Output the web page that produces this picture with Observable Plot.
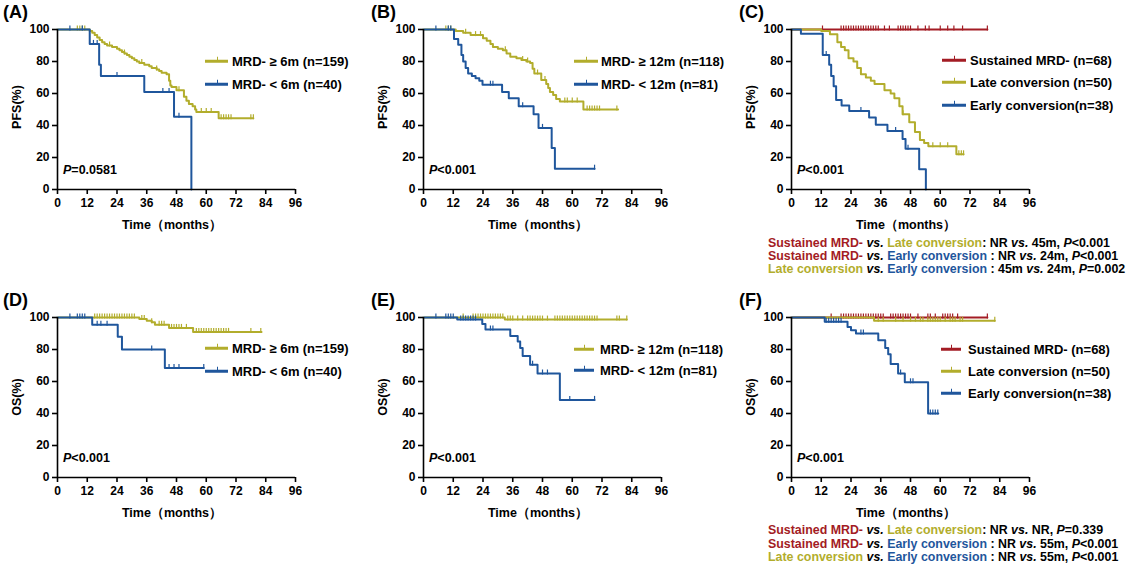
<!DOCTYPE html>
<html><head><meta charset="utf-8">
<script src="https://cdn.jsdelivr.net/npm/d3@7"></script>
<script src="https://cdn.jsdelivr.net/npm/@observablehq/plot@0.6"></script>
<style>
body{margin:0;background:#fff;}
#root{position:relative;width:1131px;height:564px;font-family:"Liberation Sans",Arial,sans-serif;font-weight:bold;color:#000;overflow:hidden;background:#fff}
.abs{position:absolute;white-space:nowrap}
.tag{font-size:18px;transform:translateY(-50%)}
.ylab{font-size:12.5px;transform:translate(-50%,-50%) rotate(-90deg)}
.xlab{font-size:12.5px;transform:translate(-50%,-50%)}
.pv{font-size:12.5px;transform:translateY(-50%)}
.legt{font-size:13px;transform:translateY(-50%)}
.sw{position:absolute;height:2.5px;transform:translateY(-50%)}
.sw i{position:absolute;left:50%;top:-3.5px;width:1.4px;height:4px;background:inherit}
.foot{font-size:12.4px;transform:translateY(-50%)}
i.it{font-style:italic}
</style>
</head><body>
<div id="root"></div>
<script>
// ---------------- data ----------------
const xTicks = [0, 12, 24, 36, 48, 60, 72, 84, 96];
const yTicks = [0, 20, 40, 60, 80, 100];
const colRed = "#a31c24", colOlive = "#b2ad2c", colBlue = "#1f569c";

// (A) PFS, MRD- >= 6m vs < 6m
const aHiT = [13,14,15,16,17,18,19,20,22,24,25,26,27,28,29,30,31,32,33,35,37,38,40,41,42,44,45,45.5,46,48,51,52,53,54.5,55.5,56,65];
const aHiS = [99,98,96.5,95,93.5,92,91,90,89,88,87,86,85,84,83,82,81,80,79,78,77,76,75,74,73,72,68,65,64,62,58,55.5,53.5,52,50,48.5,44.5];
const aHiEnd = 79;
const aHiCens = [8,9,10,11,21,27,34,40,49,58,60,62,66,67,68,69,70,78,79];
const aLoT = [13,16.8,17.5,35,47,54];
const aLoS = [91,78,71,61,45.5,0];
const aLoEnd = 54;
const aLoCens = [5,10,14.5,16,24,42.5,45,49];

// (B) PFS, MRD- >= 12m vs < 12m
const bHiT = [13,16,19,24,25.5,27,28,30,32,33.5,35,37.5,39.5,41.5,43,44,44.7,47.5,49.5,50.3,51,52.3,53.5,55,64.5];
const bHiS = [99,98,96.5,94.5,93,91,89,88,87,85,83,82,81,80,79,75.5,72.5,68.5,66,63.5,61,59,56.5,55,50];
const bHiEnd = 78.5;
const bHiCens = [9,10,11,17,21,23,33,40,42,46,49,57,58,60,62,66,67,68,69,70,71,78];
const bLoT = [12.3,14,15.3,16,17,18,19.5,21,22.5,23.8,31.7,34.4,38.4,44.4,46.4,51.7,53];
const bLoS = [94,90.5,84,80,76,72.5,71,69.5,68,65.5,61,57,52,47,38.5,26,13];
const bLoEnd = 69;
const bLoCens = [5,10,11,27,28,40,48,69];

// (C) PFS, three groups
const cSusT = [];
const cSusS = [];
const cSusEnd = 79;
const cSusCens = [12.5,20,21,22,23,24,25,26,27,28,29,30,31,32,33,34,35,37.5,39.5,43,44,45,46,47,48,51,54,55.5,60,63,65.5,69,79];
const cLateT = [12,15.5,18.5,20,21.5,23,25,26.5,28,30,32,33.5,37.5,40,41.5,43.5,44.8,47.5,49.8,51.8,53.5,55.2,66.5];
const cLateS = [99,97,92,89,87,82,80,76,72,70,68,66,62,60,57,52,47,42,36,31,29,27,22];
const cLateEnd = 69.4;
const cLateCens = [45,57,60,63,67.5,68.5,69.4];
const cEarlyT = [3.8,12.6,15.2,16,17,18,20.2,23.3,31.3,34,38.7,44.8,46,51.5,54.2];
const cEarlyS = [97.4,84,78,71,64.5,56,52.5,49,45,40.5,36.5,31.5,25.5,12.7,0];
const cEarlyEnd = 54.2;
const cEarlyCens = [14,28,42,47];

// (D) OS, MRD- >= 6m vs < 6m
const dHiT = [33,36,38,39.3,45,54.7];
const dHiS = [99,98,97,95.5,93.5,91];
const dHiEnd = 82.3;
const dHiCens = [15,16,17,18,19,20,21,22,23,24,25,26,27,28,29,30,31,34,35,38,41,42,43,46,47,48,49,50,52,56,57,58,59,60,61,62,63,64,65,66,67,68,69,78,82];
const dLoT = [14,24.3,26,43.3];
const dLoS = [95.5,88,80,68.5];
const dLoEnd = 59;
const dLoCens = [5,8,9,10,11,16,17.5,20,38,45,47,49,59];

// (E) OS, MRD- >= 12m vs < 12m
const eHiT = [32.8];
const eHiS = [98.7];
const eHiEnd = 82;
const eHiCens = [16,20,21,22,23,24,25,26,27,28,29,30,31,32,34,35,36,38,40,42,43,44,45,46,47,48,50,53,54,55,56,57,58,59,60,61,62,63,64,65,66,67,68,69,70,78,79,82];
const eLoT = [13.6,23.7,25,35,38,39,40,43,46,55];
const eLoS = [98.7,96,92.5,88.5,85,81,76,70.5,65,48.5];
const eLoEnd = 69;
const eLoCens = [5,9,10,11,12,15,16,17,18,19,20,21,27,28,44,48,50,59,69];

// (F) OS, three groups
const fSusT = [];
const fSusS = [];
const fSusEnd = 79;
const fSusCens = [16,20,21,22,23,24,25,26,27,28,29,30,31,32,33,34,35,36,37,40,41,42,43,44,45,46,47,48,51,55,56,58,61,62,63,64,65,67,79];
const fLateT = [33.3];
const fLateS = [98];
const fLateEnd = 82;
const fLateCens = [35,37,42,45,48,50,52,53,55,56,57,58,59,60,62,64,65,66,68,69,82];
const fEarlyT = [13.4,22.6,24,26,35,37.8,39,40,43,45.7,55.1];
const fEarlyS = [97.4,94,92,90,85.8,81,77,71,65,59.5,40];
const fEarlyEnd = 59.2;
const fEarlyCens = [14,15,16,17,18,19,20,28,29,44,48,49,56,57,58,59];

// text
const legA = ["MRD- ≥ 6m (n=159)", "MRD- < 6m (n=40)"];
const legB = ["MRD- ≥ 12m (n=118)", "MRD- < 12m (n=81)"];
const legC = ["Sustained MRD- (n=68)", "Late conversion (n=50)", "Early conversion(n=38)"];
const pVals = ["=0.0581", "<0.001", "<0.001", "<0.001", "<0.001", "<0.001"];

// ---------------- helpers ----------------
function path(ts, ss, end) {
  const pts = [{t: 0, s: 100}];
  ts.forEach((t, i) => pts.push({t, s: ss[i]}));
  const last = pts[pts.length - 1];
  if (end > last.t) pts.push({t: end, s: last.s});
  return pts;
}
function survAt(ts, ss, t) {
  let s = 100;
  for (let i = 0; i < ts.length; i++) if (ts[i] <= t) s = ss[i];
  return s;
}
function cens(ts, ss, cs) { return cs.map(t => ({t, s: survAt(ts, ss, t)})); }

const censorSym = {
  draw(ctx, size) {
    const h = Math.sqrt(size / Math.PI);
    ctx.moveTo(0, -h);
    ctx.lineTo(0, h * 0.25);
  }
};

const root = document.getElementById("root");
function addDiv(cls, x, y, html, extra) {
  const d = document.createElement("div");
  d.className = "abs " + cls;
  d.style.left = x + "px";
  d.style.top = y + "px";
  d.innerHTML = html;
  if (extra) Object.assign(d.style, extra);
  root.appendChild(d);
  return d;
}

function panel(left, top, series) {
  const marks = [];
  for (const sr of series) {
    marks.push(Plot.line(path(sr.t, sr.s, sr.end), {x: "t", y: "s", stroke: sr.color, strokeWidth: 2, curve: "step-after"}));
    marks.push(Plot.dot(cens(sr.t, sr.s, sr.c), {x: "t", y: "s", stroke: sr.color, fill: "none", r: 4, symbol: censorSym, strokeWidth: 1.2}));
  }
  marks.push(Plot.ruleX([0], {strokeWidth: 1.6}));
  marks.push(Plot.ruleY([0], {strokeWidth: 1.6}));
  marks.push(Plot.axisX({ticks: xTicks, tickSize: 5, tickPadding: 4, strokeWidth: 1.6, label: null}));
  marks.push(Plot.axisY({ticks: yTicks, tickSize: 5, tickPadding: 3, strokeWidth: 1.6, label: null}));
  const svg = Plot.plot({
    width: 370, height: 231,
    marginLeft: 57, marginRight: 75, marginTop: 29, marginBottom: 42,
    x: {domain: [0, 96]},
    y: {domain: [0, 100]},
    style: {fontFamily: "'Liberation Sans', Arial, sans-serif", fontSize: "12px", fontWeight: "bold", color: "#000", background: "transparent", overflow: "visible"},
    marks
  });
  svg.style.position = "absolute";
  svg.style.left = left + "px";
  svg.style.top = top + "px";
  root.appendChild(svg);
}

// ---------------- panels ----------------
panel(0, 0, [
  {t: aHiT, s: aHiS, end: aHiEnd, c: aHiCens, color: colOlive},
  {t: aLoT, s: aLoS, end: aLoEnd, c: aLoCens, color: colBlue}
]);
panel(366, 0, [
  {t: bHiT, s: bHiS, end: bHiEnd, c: bHiCens, color: colOlive},
  {t: bLoT, s: bLoS, end: bLoEnd, c: bLoCens, color: colBlue}
]);
panel(734, 0, [
  {t: cSusT, s: cSusS, end: cSusEnd, c: cSusCens, color: colRed},
  {t: cLateT, s: cLateS, end: cLateEnd, c: cLateCens, color: colOlive},
  {t: cEarlyT, s: cEarlyS, end: cEarlyEnd, c: cEarlyCens, color: colBlue}
]);
panel(0, 288, [
  {t: dHiT, s: dHiS, end: dHiEnd, c: dHiCens, color: colOlive},
  {t: dLoT, s: dLoS, end: dLoEnd, c: dLoCens, color: colBlue}
]);
panel(366, 288, [
  {t: eHiT, s: eHiS, end: eHiEnd, c: eHiCens, color: colOlive},
  {t: eLoT, s: eLoS, end: eLoEnd, c: eLoCens, color: colBlue}
]);
panel(734, 288, [
  {t: fSusT, s: fSusS, end: fSusEnd, c: fSusCens, color: colRed},
  {t: fLateT, s: fLateS, end: fLateEnd, c: fLateCens, color: colOlive},
  {t: fEarlyT, s: fEarlyS, end: fEarlyEnd, c: fEarlyCens, color: colBlue}
]);

// ---------------- annotations ----------------
const tags = ["(A)", "(B)", "(C)", "(D)", "(E)", "(F)"];
const colX = [0, 366, 734];
const rowY = [0, 288];
tags.forEach((tg, i) => {
  const cx = colX[i % 3], ry = rowY[Math.floor(i / 3)];
  addDiv("tag", cx + 3 + (i % 3 === 0 ? 0 : 2), ry + 12, tg);
  addDiv("ylab", cx + 17, ry + (i < 3 ? 107 : 109), i < 3 ? "PFS(%)" : "OS(%)");
  addDiv("xlab", cx + 57 + 115, ry + 225, "Time（months）");
  addDiv("pv", cx + 63, ry + 170, '<i class="it">P</i>' + pVals[i]);
});

function legend(lx1, lx2, tx, ys, labels, colors) {
  labels.forEach((lab, i) => {
    addDiv("sw", lx1, ys[i], "<i></i>", {width: (lx2 - lx1) + "px", background: colors[i]});
    addDiv("legt", tx, ys[i], lab);
  });
}
legend(205, 228, 232, [61, 84], legA, [colOlive, colBlue]);
legend(574, 598, 601, [61, 84], legB, [colOlive, colBlue]);
legend(942, 966, 970, [60, 82, 105], legC, [colRed, colOlive, colBlue]);
legend(205, 228, 232, [348, 371], legA, [colOlive, colBlue]);
legend(574, 594, 600, [349, 370], legB, [colOlive, colBlue]);
legend(941, 961, 968, [349, 371, 393], legC, [colRed, colOlive, colBlue]);

const S = '<span style="color:' + colRed + '">Sustained MRD-</span>';
const L = '<span style="color:' + colOlive + '">Late conversion</span>';
const E = '<span style="color:' + colBlue + '">Early conversion</span>';
const VS = '<i class="it">vs.</i>';
const P = '<i class="it">P</i>';
const footC = [
  S + ' ' + VS + ' ' + L + ': NR ' + VS + ' 45m, ' + P + '&lt;0.001',
  S + ' ' + VS + ' ' + E + ' : NR ' + VS + ' 24m, ' + P + '&lt;0.001',
  L + ' ' + VS + ' ' + E + ' : 45m ' + VS + ' 24m, ' + P + '=0.002'
];
const footF = [
  S + ' ' + VS + ' ' + L + ': NR ' + VS + ' NR, ' + P + '=0.339',
  S + ' ' + VS + ' ' + E + ' : NR ' + VS + ' 55m, ' + P + '&lt;0.001',
  L + ' ' + VS + ' ' + E + ' : NR ' + VS + ' 55m, ' + P + '&lt;0.001'
];
footC.forEach((h, i) => addDiv("foot", 768, 243 + i * 13.2, h));
footF.forEach((h, i) => addDiv("foot", 768, 530 + i * 13.5, h));
</script>
</body></html>
